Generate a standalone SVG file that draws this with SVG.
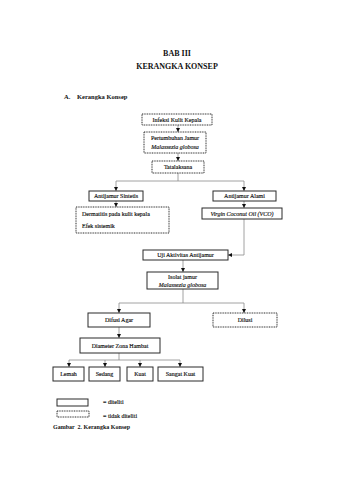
<svg xmlns="http://www.w3.org/2000/svg" width="339" height="480" viewBox="0 0 339 480">
<style>
text{font-family:"Liberation Serif","Times New Roman",serif;fill:#111}
.t{font-size:6px;text-anchor:middle;stroke:#111;stroke-width:0.15}
.l{font-size:6px;stroke:#111;stroke-width:0.15}
.i{font-style:italic}
.b{font-weight:bold}
.s{fill:#fff;stroke:#2a2a2a;stroke-width:1}
.d{fill:#fff;stroke:#2a2a2a;stroke-width:1;stroke-dasharray:1 0.7}
.c{fill:none;stroke:#8a8a8a;stroke-width:0.8}
</style>
<defs>
<marker id="a" viewBox="0 0 6 6" refX="6" refY="3" markerWidth="4" markerHeight="4" orient="auto" markerUnits="userSpaceOnUse">
<path d="M0,0L6,3L0,6z" fill="#111"/>
</marker>
</defs>
<rect width="339" height="480" fill="#fff"/>
<text x="177" y="56" class="b" style="font-size:8px;text-anchor:middle">BAB III</text>
<text x="177" y="69" class="b" style="font-size:8px;text-anchor:middle">KERANGKA KONSEP</text>
<text x="64" y="99" class="b" style="font-size:6.5px">A.</text>
<text x="77" y="99" class="b" style="font-size:6.5px">Kerangka Konsep</text>

<g id="connectors">
<path class="c" d="M178,125V132" marker-end="url(#a)"/>
<path class="c" d="M178,153V161" marker-end="url(#a)"/>
<path class="c" d="M178,173V181"/>
<path class="c" d="M116,181H244"/>
<path class="c" d="M116,181V191" marker-end="url(#a)"/>
<path class="c" d="M244,181V191" marker-end="url(#a)"/>
<path class="c" d="M116,201V207" marker-end="url(#a)"/>
<path class="c" d="M244,201V208" marker-end="url(#a)"/>
<path class="c" d="M244,219V255H228" marker-end="url(#a)"/>
<path class="c" d="M183,260V272" marker-end="url(#a)"/>
<path class="c" d="M183,289V303"/>
<path class="c" d="M119,303H244"/>
<path class="c" d="M119,303V313" marker-end="url(#a)"/>
<path class="c" d="M244,303V313" marker-end="url(#a)"/>
<path class="c" d="M119,327V338" marker-end="url(#a)"/>
<path class="c" d="M119,353V360"/>
<path class="c" d="M69,360H180"/>
<path class="c" d="M69,360V367" marker-end="url(#a)"/>
<path class="c" d="M105,360V367" marker-end="url(#a)"/>
<path class="c" d="M140,360V367" marker-end="url(#a)"/>
<path class="c" d="M180,360V367" marker-end="url(#a)"/>
</g>

<g id="infeksi"><rect class="d" x="142" y="114" width="70" height="11"/><text class="t" x="177" y="121.8">Infeksi Kulit Kepala</text></g>
<g id="pertumbuhan"><rect class="d" x="144" y="132" width="62" height="21"/><text class="t" x="175" y="140">Pertumbuhan Jamur</text><text class="t i" x="175" y="149">Malassezia globosa</text></g>
<g id="tatalaksana"><rect class="d" x="152" y="161" width="52" height="12"/><text class="t" x="178" y="169">Tatalaksana</text></g>
<g id="sintetis"><rect class="s" x="89" y="191" width="54" height="10"/><text class="t" x="116" y="198.2">Antijamur Sintetis</text></g>
<g id="alami"><rect class="s" x="213" y="191" width="63" height="10"/><text class="t" x="244.5" y="198.2">Antijamur Alami</text></g>
<g id="dermatitis"><rect class="d" x="76" y="207" width="93" height="26"/><text class="l" x="82" y="216">Dermatitis pada kulit kepala</text><text class="l" x="82" y="228">Efek sistemik</text></g>
<g id="vco"><rect class="s" x="202" y="208" width="80" height="11"/><text class="t i" x="242" y="215.6">Virgin Coconut Oil (VCO)</text></g>
<g id="uji"><rect class="s" x="143" y="250" width="85" height="10"/><text class="t" x="185.5" y="257.2">Uji Aktivitas Antijamur</text></g>
<g id="isolat"><rect class="s" x="147" y="272" width="71" height="17"/><text class="t" x="182.5" y="279">Isolat jamur</text><text class="t i" x="182.5" y="286.5">Malassezia globosa</text></g>
<g id="difusi"><rect class="s" x="88" y="313" width="62" height="14"/><text class="t" x="119" y="322">Difusi Agar</text></g>
<g id="dilusi"><rect class="d" x="213" y="313" width="64" height="14"/><text class="t" x="245" y="322">Dilusi</text></g>
<g id="diameter"><rect class="s" x="80" y="338" width="80" height="15"/><text class="t" x="120" y="347.5">Diameter Zona Hambat</text></g>
<g id="lemah"><rect class="s" x="53" y="367" width="31" height="14"/><text class="t" x="68.5" y="376">Lemah</text></g>
<g id="sedang"><rect class="s" x="89" y="367" width="31" height="14"/><text class="t" x="104.5" y="376">Sedang</text></g>
<g id="kuat"><rect class="s" x="127" y="367" width="26" height="14"/><text class="t" x="140" y="376">Kuat</text></g>
<g id="sangatkuat"><rect class="s" x="158" y="367" width="45" height="14"/><text class="t" x="180.5" y="376">Sangat Kuat</text></g>

<g id="legend">
<rect class="s" x="57" y="399" width="31" height="7"/>
<text class="l" x="103" y="404">= diteliti</text>
<rect class="d" x="57" y="411" width="32" height="6"/>
<text class="l" x="103" y="418">= tidak diteliti</text>
</g>
<text class="b" x="53" y="428.5" style="font-size:6px;white-space:pre">Gambar  2. Kerangka Konsep</text>
</svg>
